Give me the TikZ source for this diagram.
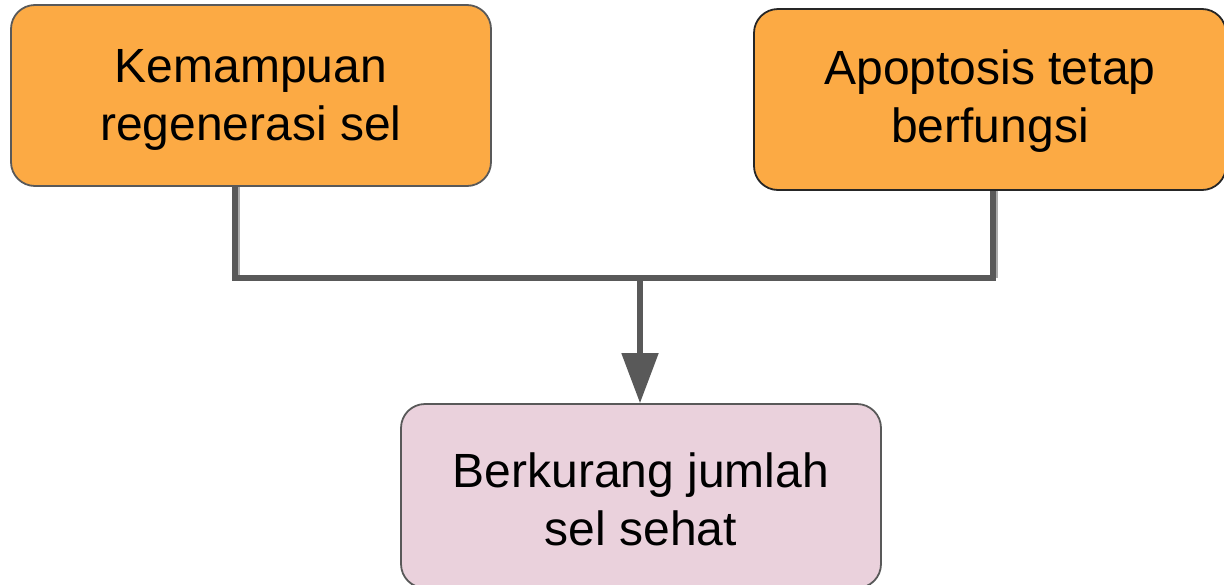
\documentclass[tikz,border=0pt]{standalone}
\usepackage{fontspec}
\setmainfont{Liberation Sans}
\usetikzlibrary{arrows.meta,calc}
\definecolor{orangebox}{HTML}{FCAA44}
\definecolor{pinkbox}{HTML}{EAD1DC}
\definecolor{linegray}{HTML}{595959}
\tikzset{
  box/.style={draw=linegray, line width=0.9pt, rounded corners=12pt, minimum width=240pt, minimum height=90.5pt, inner sep=0pt},
  lbl/.style={align=center, font=\fontsize{24}{29}\selectfont, inner sep=0pt},
  conn/.style={draw=linegray, line width=2.6pt},
  thin/.style={draw=linegray!50, line width=0.6pt}
}
\begin{document}
\begin{tikzpicture}[x=0.5pt,y=-0.5pt]
\useasboundingbox (0,0) rectangle (1224,584);
\node[box, fill=orangebox] (a) at (251,95.5) {};
\node[box, fill=orangebox, draw=black!85, minimum width=236pt] (b) at (990,99.5) {};
\node[box, fill=pinkbox, minimum height=92pt] (c) at (641,496) {};
\node[lbl] (at) at ([yshift=-2pt]a.center) {Kemampuan\\regenerasi sel};
\node[lbl] (bt) at ([yshift=-1pt]b.center) {Apoptosis tetap\\berfungsi};
\node[lbl] (ct) at ([yshift=-1.5pt]c.center) {Berkurang jumlah\\sel sehat};
\coordinate (la) at (235,278);
\coordinate (rb) at (993,278);
\coordinate (mid) at (640,278);
\draw[thin] ([xshift=2pt]a.south -| la) -- ([xshift=2pt]la);
\draw[thin] ([xshift=2pt]b.south -| rb) -- ([xshift=2pt]rb);
\draw[conn] (a.south -| la) -- (la) -- (rb) -- (b.south -| rb);
\draw[conn, -{Triangle[length=25pt,width=18pt]}] (mid) -- (c.north -| mid);
\end{tikzpicture}
\end{document}
